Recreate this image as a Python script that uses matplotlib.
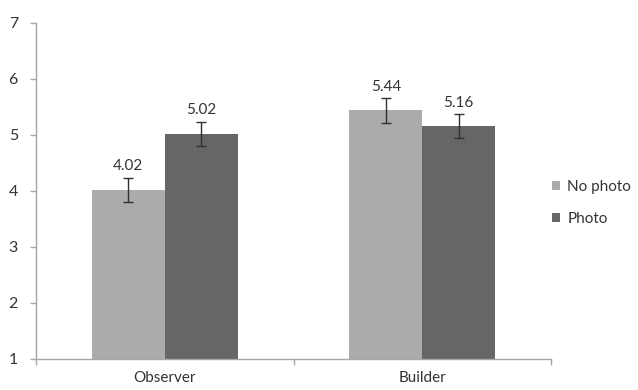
import matplotlib
matplotlib.use('Agg')
import matplotlib.pyplot as plt
import numpy as np

# Data.
CATEGORIES = ['Observer', 'Builder']
SERIES = ['No photo', 'Photo']
NO_PHOTO = [4.02, 5.44]
PHOTO = [5.02, 5.16]
NO_PHOTO_ERR = [0.22, 0.22]
PHOTO_ERR = [0.22, 0.21]
Y_TICKS = [1, 2, 3, 4, 5, 6, 7]

COLORS = ['#ababab', '#666666']
TEXT = '#333333'
AXIS = '#a6a6a6'

plt.rcParams['font.family'] = ['Lato', 'DejaVu Sans']

fig = plt.figure(figsize=(6.38, 3.90), dpi=100)
ax = fig.add_axes([36 / 638, 1 - 359 / 390, (551 - 36) / 638, (359 - 23) / 390])

x = np.arange(len(CATEGORIES))
width = 0.283
values = [NO_PHOTO, PHOTO]
errors = [NO_PHOTO_ERR, PHOTO_ERR]
for i, (name, vals, errs) in enumerate(zip(SERIES, values, errors)):
    pos = x + (i - 0.5) * width
    ax.bar(pos, np.array(vals) - 1, width, bottom=1, color=COLORS[i],
           label=name, zorder=2)
    ax.errorbar(pos, vals, yerr=errs, fmt='none', ecolor='#303030',
                elinewidth=1.0, capsize=3.5, capthick=1.0, zorder=3)
    for p, v, e in zip(pos, vals, errs):
        ax.text(p, v + e + 0.08, '%.2f' % v, ha='center', va='bottom',
                fontsize=11, color=TEXT)

ax.set_xlim(-0.5, len(CATEGORIES) - 0.5)
ax.set_ylim(1, 7)
ax.set_yticks(Y_TICKS)
ax.set_xticks(x)
ax.set_xticklabels(CATEGORIES)
ax.set_xticks(np.arange(len(CATEGORIES) + 1) - 0.5, minor=True)
ax.tick_params(axis='x', which='major', length=0, pad=9, labelsize=11,
               labelcolor=TEXT)
ax.tick_params(axis='x', which='minor', length=4, color=AXIS, width=1)
ax.tick_params(axis='y', length=4, color=AXIS, width=1, labelsize=11.5,
               labelcolor=TEXT, pad=9)

for side in ['top', 'right']:
    ax.spines[side].set_visible(False)
for side in ['left', 'bottom']:
    ax.spines[side].set_color(AXIS)
    ax.spines[side].set_linewidth(1)

leg = ax.legend(loc='center left', bbox_to_anchor=(0.99, 0.465), frameon=False,
                fontsize=11, handlelength=0.55, handleheight=0.55,
                handletextpad=0.45, labelspacing=1.2, borderaxespad=0.0)
for t in leg.get_texts():
    t.set_color(TEXT)

fig.savefig('out.png', dpi=100)
